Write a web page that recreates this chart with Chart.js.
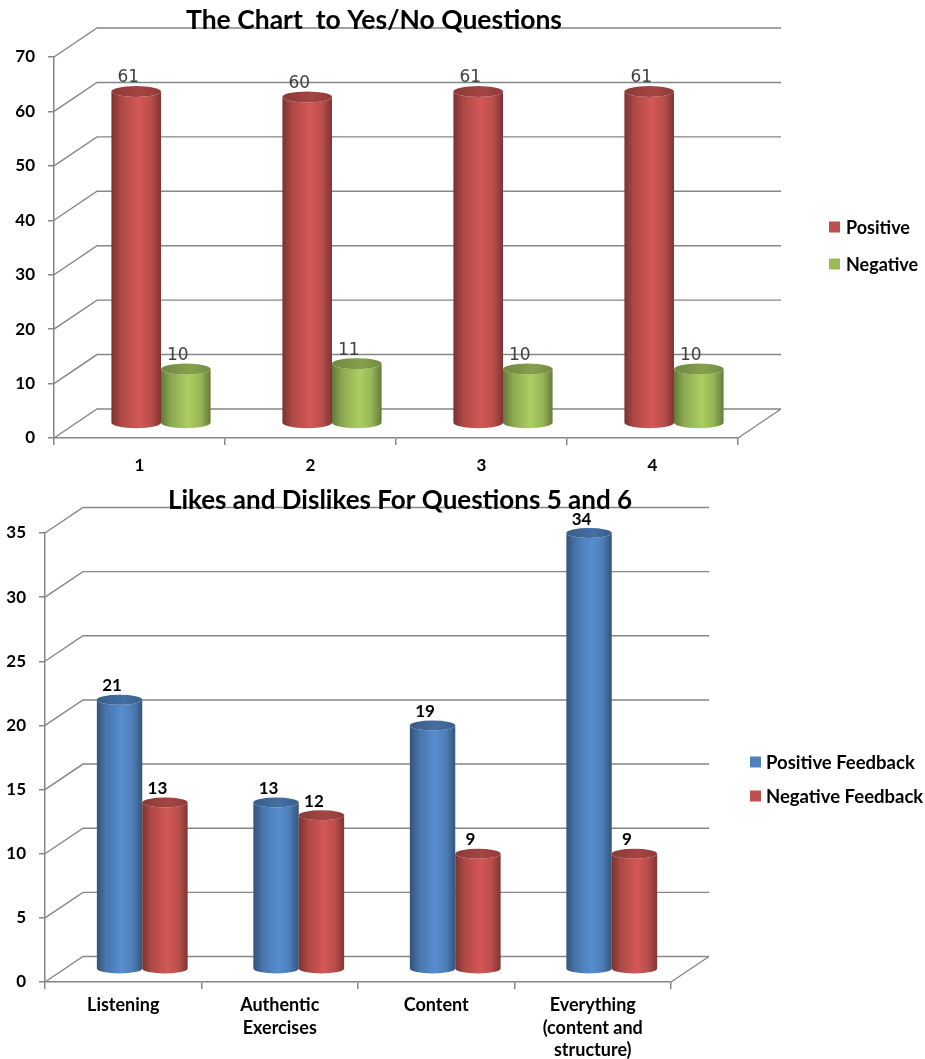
<!DOCTYPE html>
<html>
<head>
<meta charset="utf-8">
<title>Survey Charts</title>
<script src="https://cdn.jsdelivr.net/npm/chart.js@4.4.1/dist/chart.umd.min.js"></script>
<style>
  html, body { margin: 0; padding: 0; background: #ffffff; }
  canvas { display: block; }
</style>
</head>
<body>
<canvas id="yesNo" width="925" height="480"></canvas>
<canvas id="likes" width="925" height="579"></canvas>
<script>
// ---- Yes/No questions ----
const questionLabels = ['1', '2', '3', '4'];
const positiveCounts = [61, 60, 61, 61];
const negativeCounts = [10, 11, 10, 10];
const yesNoAxis = { min: 0, max: 70, step: 10 };

// ---- Likes and dislikes (questions 5 and 6) ----
const topicLabels = [
  ['Listening'],
  ['Authentic', 'Exercises'],
  ['Content'],
  ['Everything', '(content and', 'structure)']
];
const positiveFeedback = [21, 13, 19, 34];
const negativeFeedback = [13, 12, 9, 9];
const likesAxis = { min: 0, max: 35, step: 5 };

// Multiply an RGB hex colour by a factor (keeps saturation)
function scaleColor(hex, f) {
  const n = parseInt(hex.slice(1), 16);
  const c = [n >> 16, (n >> 8) & 255, n & 255].map(v => Math.max(0, Math.min(255, Math.round(v * f))));
  return `rgb(${c[0]},${c[1]},${c[2]})`;
}

function drawCylinder(ctx, cx, top, bottom, rx, ry, color) {
  const body = ctx.createLinearGradient(cx - rx, 0, cx + rx, 0);
  body.addColorStop(0, scaleColor(color, 0.64));
  body.addColorStop(0.2, scaleColor(color, 0.9));
  body.addColorStop(0.55, scaleColor(color, 1.1));
  body.addColorStop(0.8, scaleColor(color, 0.97));
  body.addColorStop(1, scaleColor(color, 0.66));
  ctx.beginPath();
  ctx.moveTo(cx - rx, top);
  ctx.lineTo(cx - rx, bottom);
  ctx.ellipse(cx, bottom, rx, ry, 0, Math.PI, 0, true);
  ctx.lineTo(cx + rx, top);
  ctx.ellipse(cx, top, rx, ry, 0, 0, Math.PI, false);
  ctx.closePath();
  ctx.fillStyle = body;
  ctx.fill();

  const cap = ctx.createLinearGradient(cx - rx, 0, cx + rx, 0);
  cap.addColorStop(0, scaleColor(color, 0.72));
  cap.addColorStop(0.6, scaleColor(color, 0.86));
  cap.addColorStop(1, scaleColor(color, 0.74));
  ctx.beginPath();
  ctx.ellipse(cx, top, rx, ry, 0, 0, Math.PI * 2);
  ctx.fillStyle = cap;
  ctx.fill();
}

// Draws the 3D walls, cylinder bars, value labels, title and legend
const cylinderPlugin = {
  id: 'cylinders',
  beforeDatasetsDraw(chart, args, o) {
    const { ctx, chartArea: a, scales: { y } } = chart;
    ctx.save();
    ctx.strokeStyle = o.wallColor;
    ctx.lineWidth = o.wallWidth;
    y.ticks.forEach(t => {
      const py = y.getPixelForValue(t.value);
      ctx.beginPath();
      ctx.moveTo(a.left, py);
      ctx.lineTo(a.left + o.dx, py + o.dy);
      ctx.lineTo(a.right + o.dx, py + o.dy);
      ctx.stroke();
    });
    ctx.beginPath();
    ctx.moveTo(a.right, a.bottom);
    ctx.lineTo(a.right + o.dx, a.bottom + o.dy);
    ctx.stroke();

    const metas = chart.data.datasets.map((ds, i) => chart.getDatasetMeta(i));
    const count = chart.data.labels.length;
    const labels = [];
    for (let j = 0; j < count; j++) {
      metas.forEach((meta, i) => {
        const bar = meta.data[j];
        const p = bar.getProps(['x', 'y', 'base', 'width'], true);
        const rx = p.width / 2;
        const ry = rx * o.capRatio;
        const cx = p.x + o.dx / 2;
        const top = p.y + o.dy / 2;
        const bottom = p.base + o.dy / 2;
        drawCylinder(ctx, cx, top, bottom, rx, ry, chart.data.datasets[i].backgroundColor);
        labels.push({ x: cx + o.labelDx, y: top - ry - o.labelGap, text: String(chart.data.datasets[i].data[j]) });
      });
    }
    ctx.font = o.labelFont;
    ctx.fillStyle = o.labelColor;
    ctx.textAlign = 'center';
    ctx.textBaseline = 'middle';
    labels.forEach(l => ctx.fillText(l.text, l.x, l.y));
    ctx.restore();
    return false;
  },
  afterDraw(chart, args, o) {
    const { ctx } = chart;
    ctx.save();
    ctx.fillStyle = '#000000';
    ctx.font = o.titleFont;
    ctx.textAlign = 'center';
    ctx.textBaseline = 'middle';
    ctx.fillText(o.title, o.titleX, o.titleY);

    ctx.font = o.legendFont;
    ctx.textAlign = 'left';
    chart.data.datasets.forEach((ds, i) => {
      const cy = o.legendY + i * o.legendGap;
      ctx.fillStyle = ds.backgroundColor;
      ctx.fillRect(o.legendX, cy - 5.5, 11, 11);
      ctx.fillStyle = '#000000';
      ctx.fillText(ds.label, o.legendX + o.legendTextGap, cy + 1);
    });
    ctx.restore();
  }
};

const axisGray = '#868686';

function axes(yRange, yWidth, xHeight, xFont, xPad, xLine) {
  return {
    x: {
      grid: { display: true, drawOnChartArea: false, drawTicks: true, tickLength: 7, color: axisGray, lineWidth: 1.5 },
      border: { display: true, color: axisGray, width: 1.5 },
      ticks: { color: '#000000', padding: xPad, font: { family: 'Lato', weight: 'bold', size: xFont, lineHeight: xLine } },
      afterFit(s) { s.height = xHeight; }
    },
    y: {
      min: yRange.min,
      max: yRange.max,
      grid: { display: true, drawOnChartArea: false, drawTicks: true, tickLength: 6, color: axisGray, lineWidth: 1.5 },
      border: { display: true, color: axisGray, width: 1.5 },
      ticks: { stepSize: yRange.step, color: '#000000', padding: 13, font: { family: 'Lato', weight: 'bold', size: 17 } },
      afterFit(s) { s.width = yWidth; }
    }
  };
}

new Chart(document.getElementById('yesNo'), {
  type: 'bar',
  data: {
    labels: questionLabels,
    datasets: [
      { label: 'Positive', data: positiveCounts, backgroundColor: '#c0504d' },
      { label: 'Negative', data: negativeCounts, backgroundColor: '#9bbb59' }
    ]
  },
  options: {
    responsive: false,
    animation: false,
    layout: { padding: { left: 0, right: 187, top: 57, bottom: 0 } },
    datasets: { bar: { categoryPercentage: 0.58, barPercentage: 1 } },
    plugins: {
      legend: { display: false },
      title: { display: false },
      tooltip: { enabled: false },
      cylinders: {
        dx: 43, dy: -29, wallColor: axisGray, wallWidth: 1.4, capRatio: 0.22,
        labelDx: -8, labelGap: 8, labelFont: '17px "DejaVu Sans"', labelColor: '#404040',
        title: 'The Chart  to Yes/No Questions', titleX: 374, titleY: 20, titleFont: 'bold 26.5px Lato',
        legendX: 829, legendY: 227, legendGap: 37, legendTextGap: 17, legendFont: 'bold 18px Lato'
      }
    },
    scales: axes(yesNoAxis, 54, 42, 17, 10, 1.2)
  },
  plugins: [cylinderPlugin]
});

new Chart(document.getElementById('likes'), {
  type: 'bar',
  data: {
    labels: topicLabels,
    datasets: [
      { label: 'Positive Feedback', data: positiveFeedback, backgroundColor: '#4f81bd' },
      { label: 'Negative Feedback', data: negativeFeedback, backgroundColor: '#c0504d' }
    ]
  },
  options: {
    responsive: false,
    animation: false,
    layout: { padding: { left: 0, right: 254, top: 53, bottom: 0 } },
    datasets: { bar: { categoryPercentage: 0.58, barPercentage: 1 } },
    plugins: {
      legend: { display: false },
      title: { display: false },
      tooltip: { enabled: false },
      cylinders: {
        dx: 38, dy: -25.5, wallColor: axisGray, wallWidth: 1.4, capRatio: 0.22,
        labelDx: -7.5, labelGap: 9, labelFont: 'bold 17px Lato', labelColor: '#000000',
        title: 'Likes and Dislikes For Questions 5 and 6', titleX: 400, titleY: 21, titleFont: 'bold 26px Lato',
        legendX: 750, legendY: 282, legendGap: 34, legendTextGap: 16, legendFont: 'bold 18.5px Lato'
      }
    },
    scales: axes(likesAxis, 45, 77, 18, 5, 1.25)
  },
  plugins: [cylinderPlugin]
});
</script>
</body>
</html>
